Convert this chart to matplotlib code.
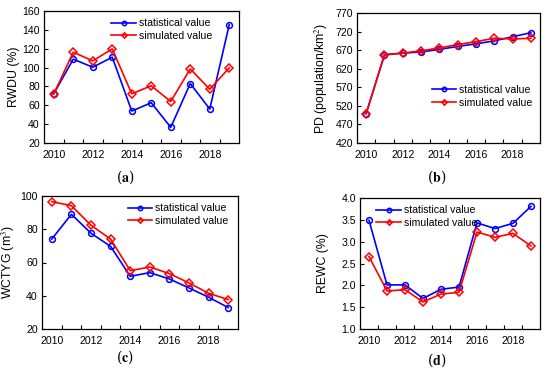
import matplotlib
matplotlib.use("Agg")
import matplotlib.pyplot as plt

plt.rcParams["font.family"] = ["Liberation Sans", "DejaVu Sans"]
plt.rcParams["mathtext.fontset"] = "stix"

years = [2010, 2011, 2012, 2013, 2014, 2015, 2016, 2017, 2018, 2019]

rwdu_stat = [72.2, 108.9, 100.4, 111.0, 53.9, 62.7, 36.6, 83.1, 56.0, 145.5]
rwdu_sim = [72.0, 116.3, 107.1, 119.8, 72.2, 80.7, 64.0, 98.6, 77.0, 99.7]

pd_stat = [499, 658, 662, 665, 672, 680, 687, 695, 706, 717]
pd_sim = [499, 657, 662, 668, 676, 685, 693, 702, 700, 702]

wctyg_stat = [74.1, 89.0, 77.6, 69.7, 51.7, 53.9, 50.1, 44.7, 39.1, 32.9]
wctyg_sim = [96.6, 94.2, 82.4, 74.1, 55.1, 57.3, 53.3, 47.7, 41.5, 37.7]

rewc_stat = [3.49, 2.01, 2.01, 1.70, 1.91, 1.96, 3.43, 3.30, 3.42, 3.81]
rewc_sim = [2.66, 1.87, 1.90, 1.62, 1.80, 1.84, 3.22, 3.10, 3.19, 2.90]

W, H = 550, 375
FS = 7.6
fig = plt.figure(figsize=(5.5, 3.75), dpi=100)


def add_axes(left, top, right, bottom):
    return fig.add_axes([left / W, 1 - bottom / H, (right - left) / W, (bottom - top) / H])


def panel(ax, stat, sim, ylabel, ylim, ystep, legend_loc, letter, letter_xy, label_x):
    ax.plot(years, stat, color="#0000ff", lw=1.2, marker="o", ms=4.2,
            mfc="none", mec="#0000ff", mew=1.1, label="statistical value")
    ax.plot(years, sim, color="#ff0000", lw=1.2, marker="D", ms=3.6,
            mfc="none", mec="#ff0000", mew=1.1, label="simulated value")
    ax.set_xlim(2009.5, 2019.5)
    ax.set_xticks(years[::2])
    ax.set_xticks([y + 0.5 for y in years[:-1]], minor=True)
    ax.tick_params(axis="x", which="major", length=0, labelsize=FS, pad=5)
    ax.tick_params(axis="x", which="minor", direction="in", length=3, width=0.8)
    ax.set_ylim(*ylim)
    n = int(round((ylim[1] - ylim[0]) / ystep))
    ax.set_yticks([ylim[0] + i * ystep for i in range(n + 1)])
    ax.tick_params(axis="y", direction="in", length=3, width=0.8, labelsize=FS, pad=3)
    ax.set_ylabel(ylabel, fontsize=8.8)
    ax.yaxis.set_label_coords(label_x, 0.5)
    for s in ax.spines.values():
        s.set_linewidth(0.9)
    ax.legend(frameon=False, fontsize=FS, handlelength=2.3, handletextpad=0.3,
              labelspacing=0.25, borderaxespad=0.3, markerscale=0.75, **legend_loc)
    fig.text(letter_xy[0] / W, 1 - letter_xy[1] / H, r"($\mathbf{%s}$)" % letter,
             ha="center", va="center", fontsize=10, family="serif")


ax_a = add_axes(44, 11, 239, 143)
panel(ax_a, rwdu_stat, rwdu_sim, "RWDU (%)", (20, 160), 20,
      dict(loc="upper right", bbox_to_anchor=(0.90, 1.0)), "a", (125, 177), -0.123)
ax_a.yaxis.set_major_formatter(matplotlib.ticker.FormatStrFormatter("%d"))

ax_b = add_axes(357, 13, 540, 143)
panel(ax_b, pd_stat, pd_sim, "PD (population/km$^{2}$)", (420, 770), 50,
      dict(loc="center right", bbox_to_anchor=(1.0, 0.36)), "b", (437, 177), -0.148)

ax_c = add_axes(42, 196, 238, 329)
panel(ax_c, wctyg_stat, wctyg_sim, "WCTYG (m$^{3}$)", (20, 100), 20,
      dict(loc="upper right", bbox_to_anchor=(0.99, 1.0)), "c", (125, 357), -0.128)

ax_d = add_axes(360, 198, 540, 329)
panel(ax_d, rewc_stat, rewc_sim, "REWC (%)", (1.0, 4.0), 0.5,
      dict(loc="upper left", bbox_to_anchor=(0.05, 1.0)), "d", (437, 360), -0.172)
ax_d.yaxis.set_major_formatter(matplotlib.ticker.FormatStrFormatter("%.1f"))

fig.savefig("out.png", dpi=100)
